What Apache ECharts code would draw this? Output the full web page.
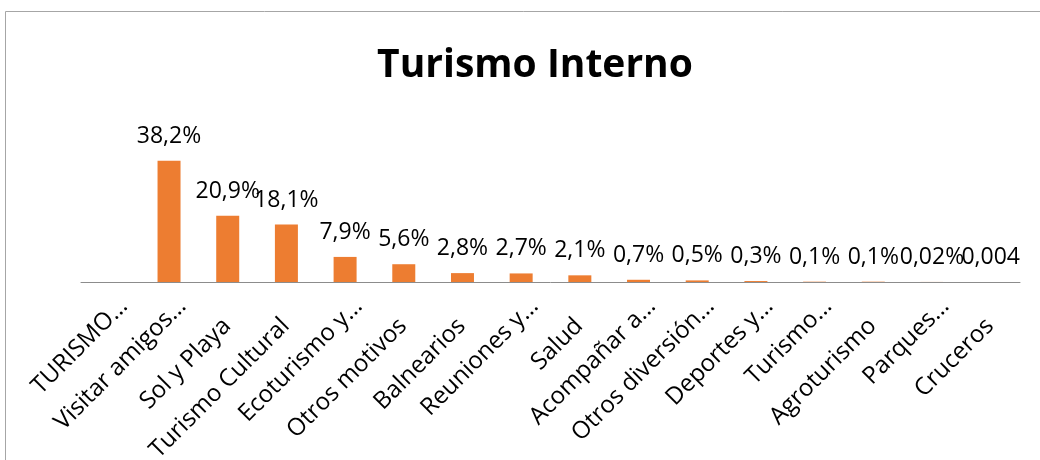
<!DOCTYPE html>
<html>
<head>
<meta charset="utf-8">
<script src="https://cdn.jsdelivr.net/npm/echarts@6/dist/echarts.min.js"></script>
<style>
    html, body { margin: 0; padding: 0; background: #fff; }
    #chart { width: 1040px; height: 460px; }
</style>
</head>
<body>
<div id="chart"></div>
<script>
    // motivos de viaje (etiquetas recortadas como en el original)
    var categories = ['TURISMO…', 'Visitar amigos…', 'Sol y Playa', 'Turismo Cultural', 'Ecoturismo y…',
        'Otros motivos', 'Balnearios', 'Reuniones y…', 'Salud', 'Acompañar a…', 'Otros diversión…',
        'Deportes y…', 'Turismo…', 'Agroturismo', 'Parques…', 'Cruceros'];
    // porcentaje del turismo interno
    var values = [null, 38.2, 20.9, 18.1, 7.9, 5.6, 2.8, 2.7, 2.1, 0.7, 0.5, 0.3, 0.1, 0.1, 0.02, 0.004];
    var valueLabels = ['', '38,2%', '20,9%', '18,1%', '7,9%', '5,6%', '2,8%', '2,7%', '2,1%', '0,7%',
        '0,5%', '0,3%', '0,1%', '0,1%', '0,02%', '0,004'];

    var dom = document.getElementById('chart');
    var myChart = echarts.init(dom, null, { renderer: 'canvas' });

    var option = {
        animation: false,
        title: {
            text: 'Turismo Interno',
            left: 530,
            textAlign: 'center',
            top: 41,
            textStyle: {
                fontFamily: 'Open Sans',
                fontWeight: 'bold',
                fontSize: 39,
                color: '#000'
            }
        },
        graphic: [
            {
                // marco del area del grafico
                type: 'polyline',
                silent: true,
                shape: { points: [[5.5, 470], [5.5, 11.5], [1050, 11.5]] },
                style: { fill: null, stroke: '#a6a6a6', lineWidth: 1 }
            }
        ],
        grid: {
            left: 81,
            right: 20,
            top: 155,
            bottom: 178,
            containLabel: false,
            outerBoundsMode: 'none'
        },
        xAxis: {
            type: 'category',
            data: categories,
            axisLine: { lineStyle: { color: '#8c8c8c', width: 1 } },
            axisTick: { show: false },
            axisLabel: {
                interval: 0,
                rotate: 45,
                margin: 7,
                verticalAlign: 'top',
                fontFamily: 'Open Sans',
                fontSize: 24,
                color: '#000',
                // las etiquetas recortadas con "…" quedan algo mas arriba en el original
                formatter: function (v) {
                    return v.indexOf('…') >= 0 ? '{e|' + v + '}' : '{p|' + v + '}';
                },
                rich: {
                    e: {
                        fontFamily: 'Open Sans',
                        fontSize: 24,
                        lineHeight: 24,
                        color: '#000',
                        padding: [14, 0, 0, 0]
                    },
                    p: {
                        fontFamily: 'Open Sans',
                        fontSize: 24,
                        lineHeight: 24,
                        color: '#000',
                        padding: [22, 24, 0, 0]
                    }
                }
            }
        },
        yAxis: {
            type: 'value',
            min: 0,
            max: 40,
            show: false,
            splitLine: { show: false }
        },
        series: [
            {
                name: 'Turismo Interno',
                type: 'bar',
                barWidth: 23,
                data: values,
                itemStyle: { color: '#ED7D31' },
                label: {
                    show: true,
                    position: 'top',
                    distance: 13,
                    fontFamily: 'Open Sans',
                    fontSize: 23,
                    color: '#000',
                    formatter: function (p) {
                        return valueLabels[p.dataIndex];
                    }
                }
            }
        ]
    };
    myChart.setOption(option, true);
</script>
</body>
</html>
